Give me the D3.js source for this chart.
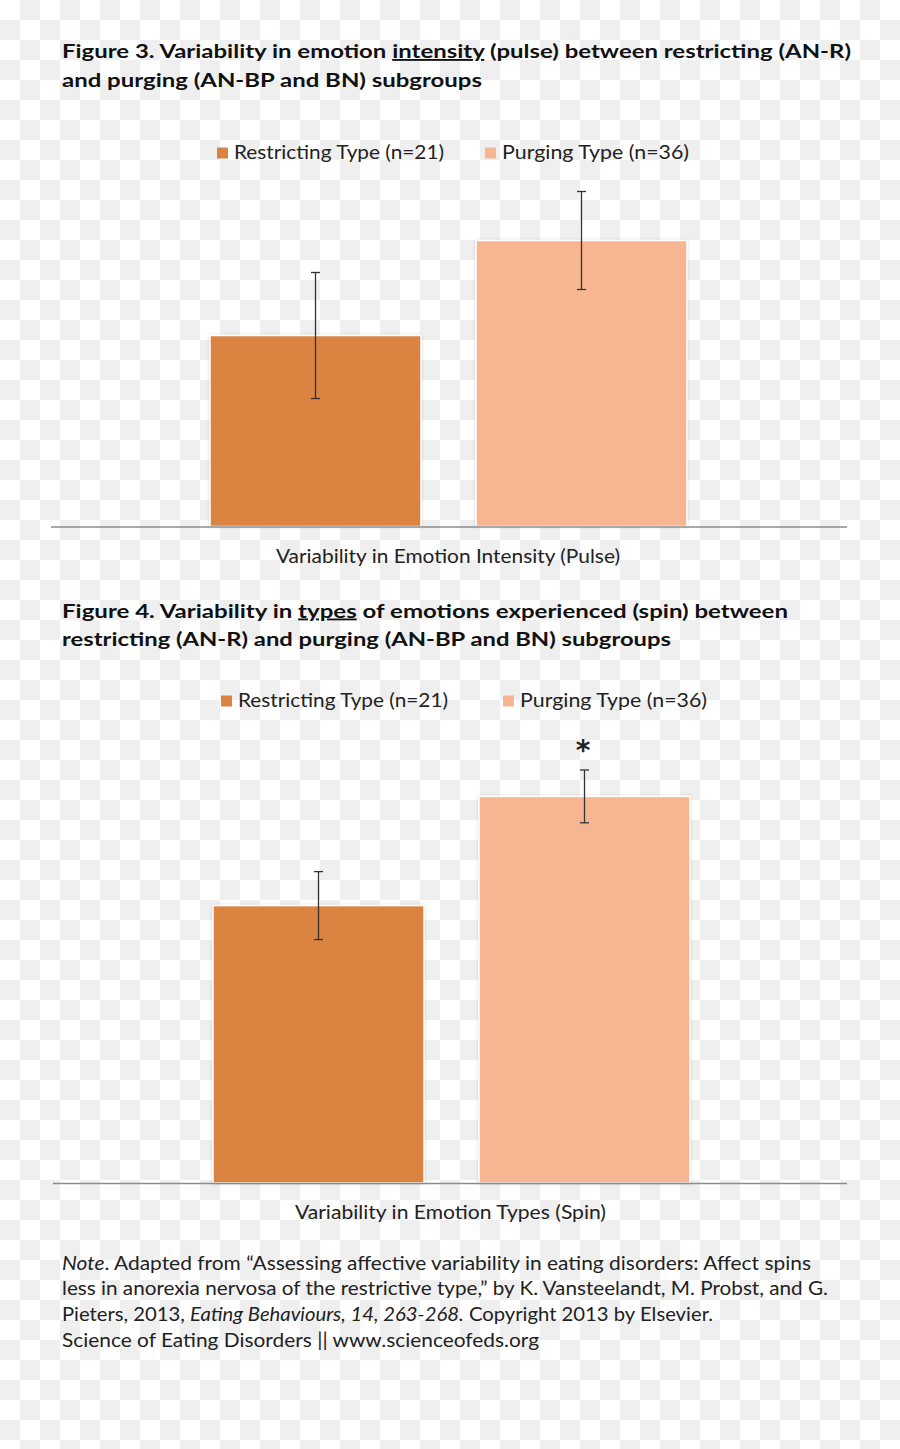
<!DOCTYPE html>
<html>
<head>
<meta charset="utf-8">
<script src="https://cdn.jsdelivr.net/npm/d3@7"></script>
<style>
  html, body { margin: 0; padding: 0; }
  body { width: 900px; height: 1449px; overflow: hidden; }
  svg { display: block; font-family: Lato, "Open Sans", sans-serif; }
</style>
</head>
<body>
<div id="chart"></div>
<script>
// data (arbitrary units, 200 px per unit)
const groups = ["Restricting Type (n=21)", "Purging Type (n=36)"];
const colors = ["#db8340", "#f8b592"];

const pulseMeans = [0.955, 1.43];
const pulseErrors = [0.315, 0.245];

const spinMeans = [1.387, 1.933];
const spinErrors = [0.17, 0.132];
const spinStars = ["", "*"];

const noteLines = [
    [{t: "Note", i: true}, {t: ". Adapted from \u201cAssessing affective variability in eating disorders: Affect spins"}],
    [{t: "less in anorexia nervosa of the restrictive type,\u201d by K. Vansteelandt, M. Probst, and G."}],
    [{t: "Pieters, 2013, "}, {t: "Eating Behaviours, 14, 263-268.", i: true}, {t: " Copyright 2013 by Elsevier."}],
    [{t: "Science of Eating Disorders || www.scienceofeds.org"}]
];

const W = 900, H = 1449;

const svg = d3.select("#chart")
    .append("svg")
    .attr("width", W)
    .attr("height", H);

// transparent-png checkerboard backdrop
const defs = svg.append("defs");
const pat = defs.append("pattern")
    .attr("id", "checker")
    .attr("width", 40).attr("height", 40)
    .attr("patternUnits", "userSpaceOnUse");
pat.append("rect").attr("width", 40).attr("height", 40).attr("fill", "#ffffff");
pat.append("rect").attr("x", 20).attr("y", 0).attr("width", 20).attr("height", 20).attr("fill", "#efefef");
pat.append("rect").attr("x", 0).attr("y", 20).attr("width", 20).attr("height", 20).attr("fill", "#efefef");
svg.append("rect").attr("width", W).attr("height", H).attr("fill", "url(#checker)");

const shadow = defs.append("filter")
    .attr("id", "barShadow")
    .attr("x", "-5%").attr("y", "-5%").attr("width", "110%").attr("height", "110%");
shadow.append("feDropShadow")
    .attr("dx", 0).attr("dy", 0).attr("stdDeviation", 1.5)
    .attr("flood-color", "#000").attr("flood-opacity", 0.18);

function fitText(sel, len) {
    sel.attr("textLength", len).attr("lengthAdjust", "spacingAndGlyphs");
}

function drawTitle(lines, x, y0, lineH, widths) {
    lines.forEach((parts, i) => {
        const t = svg.append("text")
            .attr("x", x)
            .attr("y", y0 + i * lineH)
            .attr("font-size", 18.5)
            .attr("font-weight", 700)
            .attr("fill", "#111");
        parts.forEach(p => {
            t.append("tspan")
                .text(p.t)
                .style("text-decoration", p.u ? "underline" : null);
        });
        fitText(t, widths[i]);
    });
}

function drawChart(cfg) {
    const x = d3.scaleBand()
        .domain(groups)
        .range(cfg.xRange)
        .paddingInner(0.2068)
        .paddingOuter(0.1034);

    const y = d3.scaleLinear()
        .domain([0, cfg.yMax])
        .range([cfg.baseY, cfg.baseY - cfg.yMax * 200]);

    const g = svg.append("g");

    // legend
    const leg = g.selectAll(".legend")
        .data(groups)
        .join("g")
        .attr("class", "legend")
        .attr("transform", (d, i) => `translate(${cfg.legendX[i]},${cfg.legendY})`);
    leg.append("rect")
        .attr("x", 0).attr("y", -11)
        .attr("width", 11).attr("height", 11)
        .attr("fill", (d, i) => colors[i]);
    leg.append("text")
        .attr("x", 17)
        .attr("y", 0)
        .attr("font-size", 18.5)
        .attr("fill", "#222")
        .text(d => d)
        .each(function(d, i) { fitText(d3.select(this), cfg.legendW[i]); });

    // bars
    g.selectAll(".bar")
        .data(cfg.means)
        .join("rect")
        .attr("class", "bar")
        .attr("x", (d, i) => x(groups[i]))
        .attr("y", d => y(d))
        .attr("width", x.bandwidth())
        .attr("height", d => y(0) - y(d))
        .attr("fill", (d, i) => colors[i])
        .attr("stroke", "#ffffff")
        .attr("stroke-width", 1.5)
        .attr("filter", "url(#barShadow)");

    // baseline
    g.append("line")
        .attr("x1", cfg.axisX[0]).attr("x2", cfg.axisX[1])
        .attr("y1", y(0) + 0.5).attr("y2", y(0) + 0.5)
        .attr("stroke", "#8c8c8c")
        .attr("stroke-width", 1.3);

    // error bars
    const err = g.selectAll(".err")
        .data(cfg.means)
        .join("g")
        .attr("class", "err")
        .attr("stroke", "#333")
        .attr("stroke-width", 1.3);
    const cx = (i) => x(groups[i]) + x.bandwidth() / 2;
    err.append("line")
        .attr("x1", (d, i) => cx(i)).attr("x2", (d, i) => cx(i))
        .attr("y1", (d, i) => y(d + cfg.errors[i]))
        .attr("y2", (d, i) => y(d - cfg.errors[i]));
    [1, -1].forEach(s => {
        err.append("line")
            .attr("x1", (d, i) => cx(i) - 4.5).attr("x2", (d, i) => cx(i) + 4.5)
            .attr("y1", (d, i) => y(d + s * cfg.errors[i]))
            .attr("y2", (d, i) => y(d + s * cfg.errors[i]));
    });

    if (cfg.stars) {
        g.selectAll(".star")
            .data(cfg.means)
            .join("text")
            .attr("class", "star")
            .attr("x", (d, i) => cx(i) - 1.5)
            .attr("y", (d, i) => y(d + cfg.errors[i]) - 10.5)
            .attr("text-anchor", "middle")
            .attr("font-family", "'DejaVu Sans', sans-serif")
            .attr("font-size", 28)
            .attr("font-weight", 700)
            .attr("fill", "#222")
            .text((d, i) => cfg.stars[i]);
    }

    // category label
    const lab = g.append("text")
        .attr("x", (cfg.labelX[0] + cfg.labelX[1]) / 2)
        .attr("y", cfg.labelY)
        .attr("text-anchor", "middle")
        .attr("font-size", 18.5)
        .attr("fill", "#222")
        .text(cfg.label);
    fitText(lab, cfg.labelX[1] - cfg.labelX[0]);
}

// Figure 3
drawTitle([
    [{t: "Figure 3. Variability in emotion "}, {t: "intensity", u: true}, {t: " (pulse) between restricting (AN-R)"}],
    [{t: "and purging (AN-BP and BN) subgroups"}]
], 62, 58, 28.5, [789, 420]);

drawChart({
    means: pulseMeans,
    errors: pulseErrors,
    yMax: 1.735,
    baseY: 526.5,
    xRange: [182.5, 714.5],
    axisX: [51, 847],
    legendX: [217, 485],
    legendY: 158.5,
    legendW: [210, 187],
    label: "Variability in Emotion Intensity (Pulse)",
    labelX: [276, 620],
    labelY: 562.5
});

// Figure 4
drawTitle([
    [{t: "Figure 4. Variability in "}, {t: "types", u: true}, {t: " of emotions experienced (spin) between"}],
    [{t: "restricting (AN-R) and purging (AN-BP and BN) subgroups"}]
], 62, 617.5, 28.5, [726, 609]);

drawChart({
    means: spinMeans,
    errors: spinErrors,
    stars: spinStars,
    yMax: 2.1,
    baseY: 1183,
    xRange: [185.5, 717.5],
    axisX: [53, 847],
    legendX: [221, 503],
    legendY: 706.5,
    legendW: [210, 187],
    label: "Variability in Emotion Types (Spin)",
    labelX: [295, 606],
    labelY: 1218.5
});

// note
const noteWidths = [749, 766, 651, 477];
noteLines.forEach((parts, i) => {
    const t = svg.append("text")
        .attr("x", 62)
        .attr("y", 1269.5 + i * 25.8)
        .attr("font-size", 18.5)
        .attr("fill", "#222");
    parts.forEach(p => {
        t.append("tspan")
            .text(p.t)
            .attr("font-style", p.i ? "italic" : null);
    });
    fitText(t, noteWidths[i]);
});
</script>
</body>
</html>
